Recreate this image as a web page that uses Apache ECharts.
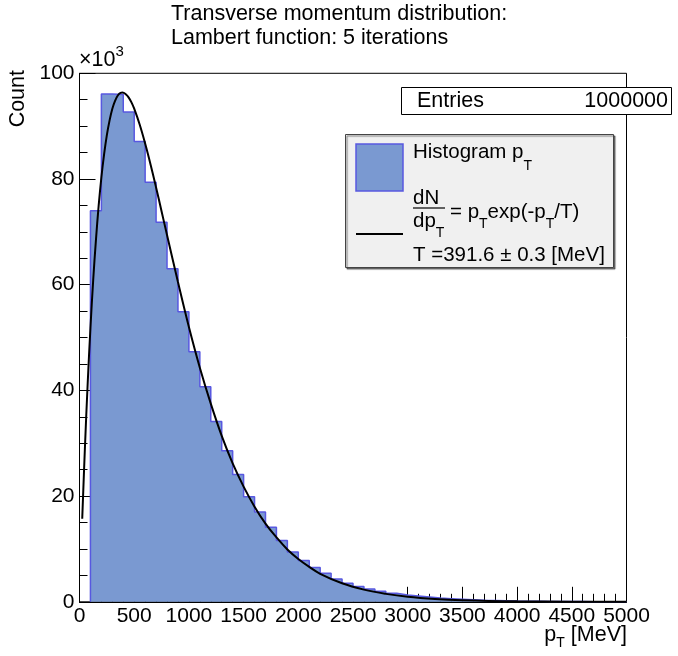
<!DOCTYPE html>
<html>
<head>
<meta charset="utf-8">
<script src="https://cdn.jsdelivr.net/npm/echarts@6/dist/echarts.min.js"></script>
<style>
html,body{margin:0;padding:0;background:#fff;}
#chart{width:678px;height:656px;}
</style>
</head>
<body>
<div id="chart"></div>
<script>
// ---- Data (counts in units of 10^3) ----
const BIN_FIRST = 100;     // low edge of first bin [MeV]
const BIN_WIDTH = 100;     // bin width [MeV]
const histCounts = [
  74.0, 96.1, 96.0, 92.7, 87.1, 79.4, 71.8, 63.0, 54.9, 47.3,
  40.7, 34.1, 28.6, 24.1, 19.9, 17.0, 14.1, 11.6, 9.4, 7.8,
  6.5, 5.4, 4.3, 3.5, 2.9, 2.4, 2.0, 1.6, 1.3, 1.1,
  0.9, 0.7, 0.6, 0.5, 0.4, 0.3, 0.25, 0.2, 0.15, 0.12,
  0.1, 0.08, 0.06, 0.05, 0.04, 0.03, 0.025, 0.02, 0.015
];
const fitX = [25, 50, 75, 100, 125, 150, 175, 200, 225, 250, 275, 300, 325, 350, 375, 392, 425, 450, 475, 500,
  550, 600, 650, 700, 750, 800, 900, 1000, 1100, 1200, 1300, 1400, 1500, 1600, 1700, 1800, 1900, 2000,
  2100, 2200, 2400, 2600, 2800, 3000, 3250, 3500, 4000, 4500, 5000];
const fitY = [15.7, 29.4, 41.4, 51.8, 60.8, 68.4, 74.9, 80.3, 84.7, 88.3, 91.1, 93.3, 94.8, 95.8, 96.3, 96.35, 96.0, 95.4, 94.5, 93.3,
  90.3, 86.7, 82.7, 78.4, 73.9, 69.4, 60.5, 52.0, 44.3, 37.5, 31.4, 26.2, 21.8, 18.0, 14.8, 12.2, 9.9, 8.1,
  6.6, 5.3, 3.5, 2.3, 1.5, 0.95, 0.54, 0.31, 0.10, 0.03, 0.01];
const xTickMax = 5000, xTickStep = 500;
const yTickMax = 100, yTickStep = 20;

const titleLines = ['Transverse momentum distribution:', 'Lambert function: 5 iterations'];
const statsLabel = 'Entries', statsValue = '1000000';

// ---- build series data ----
const histData = [[BIN_FIRST, 0]];
histCounts.forEach((c, i) => histData.push([BIN_FIRST + i * BIN_WIDTH, c]));
histData.push([BIN_FIRST + histCounts.length * BIN_WIDTH, histCounts[histCounts.length - 1]]);
histData.push([BIN_FIRST + histCounts.length * BIN_WIDTH, 0]);
const fitData = fitX.map((x, i) => [x, fitY[i]]);

const FONT = '"Liberation Sans", Arial, Helvetica, sans-serif';
const FILL = '#7a99d1';
const EDGE = '#5858e0';

const mctx = document.createElement('canvas').getContext('2d');
function tw(t, s) { mctx.font = s + 'px ' + FONT; return mctx.measureText(t).width; }
function txt(x, y, t, s, align, extra) {
  return Object.assign({
    type: 'text', x: x, y: y, silent: true,
    style: { text: t, font: s + 'px ' + FONT, fontSize: s, fontFamily: FONT, fill: '#000',
      align: align || 'left', verticalAlign: 'middle', textAlign: align || 'left', textVerticalAlign: 'middle' }
  }, extra || {});
}
// segments: [text, size, dy]
function row(x, y, segs, align) {
  let total = 0; segs.forEach(s => total += tw(s[0], s[1]));
  let cx = align === 'right' ? x - total : x;
  const out = [];
  segs.forEach(s => { out.push(txt(cx, y + (s[2] || 0), s[0], s[1], 'left')); cx += tw(s[0], s[1]); });
  return out;
}

const graphics = [];
// title
graphics.push(txt(171, 14, titleLines[0], 21.5));
graphics.push(txt(171, 38, titleLines[1], 21.5));
// x10^3
graphics.push(...row(79, 60, [['\u00d710', 21.5], ['3', 15, -8]]));
// axis titles
graphics.push(txt(18, 70, 'Count', 21.5, 'right', { rotation: Math.PI / 2 }));
graphics.push(...row(627, 635, [['p', 21.5], ['T', 14, 8], [' [MeV]', 21.5]], 'right'));
// stats box
graphics.push({ type: 'rect', shape: { x: 401.5, y: 87.5, width: 270, height: 27 }, style: { fill: '#fff', stroke: '#000', lineWidth: 1 }, silent: true });
graphics.push(txt(417, 101, statsLabel, 21.5));
graphics.push(txt(668, 101, statsValue, 21.5, 'right'));
// legend box
graphics.push({ type: 'rect', shape: { x: 345.5, y: 134.5, width: 268, height: 133 },
  style: { fill: '#f0f0f0', stroke: '#444', lineWidth: 1, shadowBlur: 1, shadowOffsetX: 1.5, shadowOffsetY: 1.5, shadowColor: 'rgba(0,0,0,0.5)' }, silent: true });
graphics.push({ type: 'rect', shape: { x: 356, y: 144, width: 47, height: 47 }, style: { fill: FILL, stroke: EDGE, lineWidth: 1.5 }, silent: true });
graphics.push({ type: 'line', shape: { x1: 356, y1: 234, x2: 403, y2: 234 }, style: { stroke: '#000', lineWidth: 2 }, silent: true });
graphics.push(...row(413, 152, [['Histogram p', 20.5], ['T', 14, 14]]));
// fraction
graphics.push(txt(413, 198, 'dN', 20.5));
graphics.push({ type: 'line', shape: { x1: 413, y1: 208, x2: 445, y2: 208 }, style: { stroke: '#000', lineWidth: 1.2 }, silent: true });
graphics.push(...row(413, 221, [['dp', 20.5], ['T', 14, 12]]));
graphics.push(...row(450, 212, [['= p', 20.5], ['T', 14, 12], ['exp(-p', 20.5], ['T', 14, 12], ['/T)', 20.5]]));
graphics.push(txt(413, 255, 'T =391.6 \u00b1 0.3 [MeV]', 20.5));

const chart = echarts.init(document.getElementById('chart'), null, { renderer: 'canvas' });
chart.setOption({
  animation: false,
  backgroundColor: '#fff',
  textStyle: { fontFamily: FONT },
  grid: { left: 79.5, right: 51.5, top: 73.3, bottom: 54.2, show: true, borderColor: '#000', borderWidth: 1, backgroundColor: 'transparent' },
  xAxis: {
    type: 'value', min: 0, max: xTickMax, interval: xTickStep,
    axisLine: { lineStyle: { color: '#000', width: 1 } },
    axisTick: { inside: true, length: 15, lineStyle: { color: '#000' } },
    minorTick: { show: true, splitNumber: 5, length: 8, lineStyle: { color: '#000' } },
    splitLine: { show: false },
    axisLabel: { color: '#000', fontSize: 21, fontFamily: FONT, margin: 4, showMinLabel: true, showMaxLabel: true,
      formatter: v => String(v) }
  },
  yAxis: {
    type: 'value', min: 0, max: yTickMax, interval: yTickStep,
    axisLine: { show: true, lineStyle: { color: '#000', width: 1 } },
    axisTick: { show: true, inside: true, length: 16, lineStyle: { color: '#000' } },
    minorTick: { show: true, splitNumber: 4, length: 8, lineStyle: { color: '#000' } },
    splitLine: { show: false },
    axisLabel: { color: '#000', fontSize: 21, fontFamily: FONT, margin: 5, formatter: v => String(v) }
  },
  series: [
    { type: 'line', data: histData, step: 'end', symbol: 'none', silent: true,
      lineStyle: { color: EDGE, width: 1.5 }, areaStyle: { color: FILL, opacity: 1 }, z: 2 },
    { type: 'line', data: fitData, smooth: 0.4, symbol: 'none', silent: true,
      lineStyle: { color: '#000', width: 2 }, z: 3 }
  ],
  graphic: { elements: graphics }
});
</script>
</body>
</html>
